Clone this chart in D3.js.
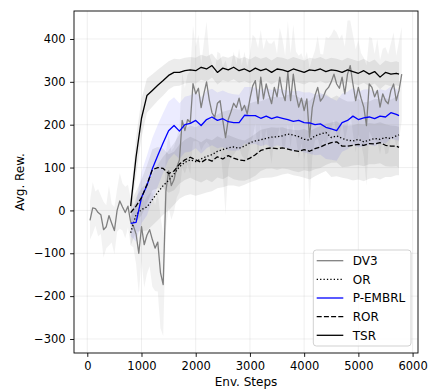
<!DOCTYPE html>
<html>
<head>
<meta charset="utf-8">
<script src="https://cdn.jsdelivr.net/npm/d3@7"></script>
<style>
  body { margin: 0; background: #fff; }
  text { font-family: "DejaVu Sans", sans-serif; }
</style>
</head>
<body>
<svg id="chart" width="438" height="391"></svg>
<script>
// ---- data ----
// DV3 is logged every 50 steps from step 50
const dv3Steps = d3.range(50, 5801, 50);
const dv3Mean = [
  -23, 6, 4, -5, -10, -45, -38, -12, -30, -47, 0, 22, 8, -5, 10, -27,
  -36, -55, -100, -38, -80, -58, -45, -68, -88, -74, -145, -173,
  45, 92, 58, 72, 100, 118,
  210, 186, 212, 205, 296, 272, 285, 240, 272, 300, 258, 228, 217, 250, 256, 210,
  170, 212, 230, 250, 240, 262, 233, 245, 225, 260, 290, 303, 249, 311, 260, 295,
  270, 249, 287, 265, 311, 275, 256, 322, 256, 318, 270, 241, 262, 233, 260, 171,
  240, 268, 287, 255, 264, 280, 287, 300, 318, 295, 285, 311, 272, 318, 338, 295,
  256, 287, 262, 241, 198, 295, 287, 265, 280, 241, 272, 256, 249, 280, 295, 256,
  280, 318
];
const dv3Std = [
  45, 60, 40, 55, 45, 65, 50, 70, 45, 55, 50, 65, 55, 60, 50, 55,
  50, 70, 95, 80, 100, 90, 85, 110, 100, 115, 130, 120,
  90, 85, 80, 75, 70, 75,
  110, 100, 105, 120, 135, 110, 125, 100, 120, 140, 105, 115, 100, 120, 110, 125,
  180, 115, 105, 120, 100, 115, 105, 125, 110, 105, 120, 100, 130, 110, 115, 105,
  120, 140, 110, 100, 115, 125, 105, 120, 110, 115, 100, 120, 105, 115, 110, 160,
  115, 105, 120, 110, 100, 125, 115, 110, 105, 120, 115, 100, 110, 125, 105, 115,
  120, 110, 105, 115, 140, 110, 115, 100, 120, 110, 105, 125, 115, 110, 120, 105,
  115, 110
];

// the other methods start at step 800, every 100 steps
const mainSteps = d3.range(800, 5701, 100).concat([5750]);

const orMean = [
  -52, -10, 2, 8, 25, 42, 58, 70, 85, 102, 112, 118, 114, 120, 126, 130, 138,
  142, 146, 148, 145, 150, 158, 162, 165, 168, 171, 172, 174, 178, 176, 172,
  166, 164, 174, 178, 182, 170, 174, 168, 164, 162, 166, 160, 164, 168, 166,
  170, 168, 174, 176
];
const orStd = [
  30, 40, 50, 55, 60, 65, 68, 70, 72, 75, 78, 80, 80, 82, 84, 85, 86,
  88, 88, 90, 90, 90, 92, 92, 90, 92, 94, 92, 90, 92, 94, 92,
  90, 92, 94, 92, 90, 92, 94, 92, 90, 92, 94, 92, 90, 92, 94,
  92, 90, 92, 94
];

const pembrlMean = [
  -30, -28, 30, 58, 97, 128, 158, 186, 198, 185, 200, 203, 210, 198, 212, 218,
  210, 214, 207, 205, 205, 222, 221, 221, 215, 220, 214, 218, 215, 212, 208,
  210, 205, 204, 200, 202, 194, 190, 186, 205, 210, 220, 212, 216, 218, 214,
  220, 218, 228, 224, 221
];
const pembrlStd = [
  30, 45, 60, 70, 72, 72, 70, 68, 66, 65, 65, 66, 65, 66, 67, 66,
  65, 66, 67, 66, 65, 66, 67, 66, 65, 66, 67, 66, 67, 68, 70,
  69, 70, 72, 71, 72, 74, 72, 70, 68, 67, 66, 65, 66, 65, 64,
  63, 62, 61, 60, 58
];

const rorMean = [
  -5, 10, 30, 60, 95, 100, 98, 86, 92, 108, 118, 124, 118, 112, 120, 115,
  125, 120, 128, 122, 118, 116, 122, 130, 140, 144, 146, 144, 146, 143, 140,
  138, 142, 138, 144, 148, 154, 158, 160, 150, 150, 152, 154, 152, 156, 155,
  158, 152, 150, 150, 147
];
const rorStd = [
  25, 35, 42, 45, 48, 48, 46, 45, 45, 46, 47, 48, 48, 47, 48, 49,
  48, 47, 48, 49, 48, 47, 48, 49, 48, 47, 48, 49, 48, 47, 48,
  49, 48, 47, 48, 49, 48, 47, 48, 49, 48, 47, 48, 49, 48, 47,
  48, 49, 48, 47, 48
];

const tsrMean = [
  10, 125, 215, 268, 280, 292, 303, 315, 322, 322, 326, 328, 326, 334, 330,
  338, 322, 332, 328, 334, 326, 330, 324, 332, 326, 330, 322, 330, 328, 324,
  330, 326, 322, 328, 326, 330, 324, 328, 326, 322, 328, 324, 320, 326, 318,
  324, 311, 322, 318, 320, 318
];
const tsrStd = [
  20, 45, 45, 40, 38, 36, 35, 33, 32, 31, 30, 30, 30, 29, 29,
  28, 28, 28, 28, 28, 28, 28, 28, 28, 28, 28, 28, 28, 28, 28,
  28, 28, 28, 28, 28, 28, 28, 28, 28, 28, 28, 28, 28, 28, 28,
  28, 28, 28, 28, 28, 28
];

const seriesNames = ["DV3", "OR", "P-EMBRL", "ROR", "TSR"];
const xTicks = [0, 1000, 2000, 3000, 4000, 5000, 6000];
const yTicks = [-300, -200, -100, 0, 100, 200, 300, 400];

// ---- styles per series ----
const styles = {
  "DV3":     { color: "gray",  dash: null,      alpha: 0.1 },
  "OR":      { color: "black", dash: "1.3,2.1", alpha: 0.075 },
  "P-EMBRL": { color: "blue",  dash: null,      alpha: 0.075 },
  "ROR":     { color: "black", dash: "5,2.2",   alpha: 0.075 },
  "TSR":     { color: "black", dash: null,      alpha: 0.075 }
};

const series = [
  { name: "DV3", steps: dv3Steps, mean: dv3Mean, std: dv3Std },
  { name: "OR", steps: mainSteps, mean: orMean, std: orStd },
  { name: "P-EMBRL", steps: mainSteps, mean: pembrlMean, std: pembrlStd },
  { name: "ROR", steps: mainSteps, mean: rorMean, std: rorStd },
  { name: "TSR", steps: mainSteps, mean: tsrMean, std: tsrStd }
];

// ---- layout ----
const svg = d3.select("#chart");
const plot = { left: 74, right: 418, top: 11, bottom: 353 };

const x = d3.scaleLinear().domain([-245, 6100]).range([plot.left, plot.right]);
const y = d3.scaleLinear().domain([-332.7, 465.3]).range([plot.bottom, plot.top]);

svg.append("rect").attr("width", 438).attr("height", 391).attr("fill", "#fff");

// clip to the axes box
svg.append("defs").append("clipPath").attr("id", "clip")
  .append("rect")
  .attr("x", plot.left).attr("y", plot.top)
  .attr("width", plot.right - plot.left).attr("height", plot.bottom - plot.top);

const body = svg.append("g").attr("clip-path", "url(#clip)");

// shaded bands first
series.forEach(s => {
  const pts = s.steps.map((st, i) => ({ st: st, m: s.mean[i], sd: s.std[i] }));
  body.append("path")
    .datum(pts)
    .attr("fill", styles[s.name].color)
    .attr("fill-opacity", styles[s.name].alpha)
    .attr("stroke", "none")
    .attr("d", d3.area()
      .x(d => x(d.st))
      .y0(d => y(d.m - d.sd))
      .y1(d => y(d.m + d.sd)));
});

// grid
const grid = body.append("g").attr("stroke", "#b0b0b0").attr("stroke-opacity", 0.25).attr("stroke-width", 0.8);
xTicks.forEach(t => grid.append("line").attr("x1", x(t)).attr("x2", x(t)).attr("y1", plot.top).attr("y2", plot.bottom));
yTicks.forEach(t => grid.append("line").attr("y1", y(t)).attr("y2", y(t)).attr("x1", plot.left).attr("x2", plot.right));

// mean lines
series.forEach(s => {
  const pts = s.steps.map((st, i) => [st, s.mean[i]]);
  body.append("path")
    .datum(pts)
    .attr("fill", "none")
    .attr("stroke", styles[s.name].color)
    .attr("stroke-width", 1.3)
    .attr("stroke-dasharray", styles[s.name].dash)
    .attr("stroke-linejoin", "round")
    .attr("d", d3.line().x(d => x(d[0])).y(d => y(d[1])));
});

// axes
const fmt = d3.format("d");
const xAxis = svg.append("g")
  .attr("transform", `translate(0,${plot.bottom})`)
  .call(d3.axisBottom(x).tickValues(xTicks).tickFormat(fmt).tickSize(3.9).tickSizeOuter(0).tickPadding(4.5));
const yAxis = svg.append("g")
  .attr("transform", `translate(${plot.left},0)`)
  .call(d3.axisLeft(y).tickValues(yTicks).tickFormat(fmt).tickSize(3.9).tickSizeOuter(0).tickPadding(4.5));
[xAxis, yAxis].forEach(a => {
  a.select(".domain").remove();
  a.selectAll("line").attr("stroke", "#000").attr("stroke-width", 0.9);
  a.selectAll("text").attr("font-size", 11.5).attr("fill", "#000").attr("font-family", "DejaVu Sans");
});

// frame
svg.append("rect")
  .attr("x", plot.left).attr("y", plot.top)
  .attr("width", plot.right - plot.left).attr("height", plot.bottom - plot.top)
  .attr("fill", "none").attr("stroke", "#000").attr("stroke-width", 0.9);

// axis labels
svg.append("text")
  .attr("x", (plot.left + plot.right) / 2).attr("y", 386)
  .attr("text-anchor", "middle").attr("font-size", 12)
  .text("Env. Steps");
svg.append("text")
  .attr("transform", `translate(23.5,${(plot.top + plot.bottom) / 2}) rotate(-90)`)
  .attr("text-anchor", "middle").attr("font-size", 12)
  .text("Avg. Rew.");

// legend
const legend = svg.append("g");
legend.append("rect")
  .attr("x", 313.3).attr("y", 250).attr("width", 97.7).attr("height", 96)
  .attr("rx", 3)
  .attr("fill", "#fff").attr("fill-opacity", 0.8)
  .attr("stroke", "#cccccc").attr("stroke-width", 0.9);
seriesNames.forEach((name, i) => {
  const ly = 260.7 + i * 18.65;
  legend.append("line")
    .attr("x1", 316.7).attr("x2", 343.3).attr("y1", ly).attr("y2", ly)
    .attr("stroke", styles[name].color).attr("stroke-width", 1.3)
    .attr("stroke-dasharray", styles[name].dash);
  legend.append("text")
    .attr("x", 352.7).attr("y", ly).attr("dy", "0.36em")
    .attr("font-size", 12)
    .text(name);
});
</script>
</body>
</html>
